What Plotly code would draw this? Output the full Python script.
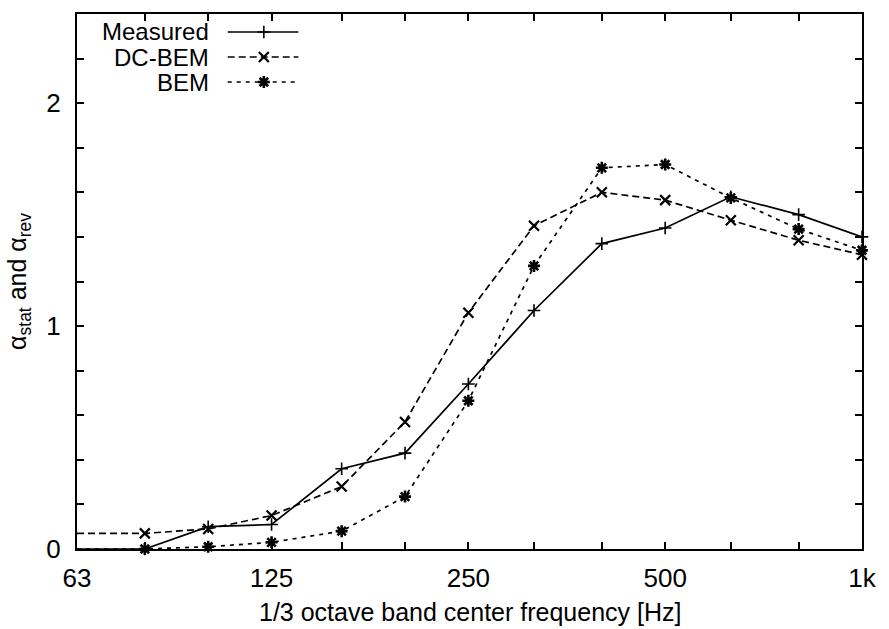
import math
import plotly.graph_objects as go

# 1/3 octave band centre frequencies [Hz]
freqs = [63, 80, 100, 125, 160, 200, 250, 315, 400, 500, 630, 800, 1000]

# Absorption coefficients per band
measured = [0.00, 0.00, 0.10, 0.11, 0.36, 0.43, 0.74, 1.07, 1.37, 1.44, 1.58, 1.50, 1.40]
dc_bem = [0.07, 0.07, 0.09, 0.15, 0.28, 0.57, 1.06, 1.45, 1.60, 1.565, 1.475, 1.385, 1.32]
bem = [0.00, 0.00, 0.01, 0.03, 0.08, 0.235, 0.665, 1.27, 1.71, 1.725, 1.575, 1.435, 1.34]

# Axis labelling
x_label_vals = [63, 125, 250, 500, 1000]
x_label_text = ["63", "125", "250", "500", "1k"]
y_tick_vals = [round(0.2 * i, 1) for i in range(13)]
y_label_vals = [0, 1, 2]

series_names = ["Measured", "DC-BEM", "BEM"]

FONT = "Liberation Sans, Arial, Helvetica, sans-serif"
BLACK = "#000000"

styles = [
    dict(dash="solid", symbol="cross-thin-open", size=9, mlw=1.6),
    dict(dash="7px,4px", symbol="x-thin-open", size=10, mlw=2.2),
    dict(dash="4px,5px", symbol="asterisk-open", size=10, mlw=2.6),
]

fig = go.Figure()

for name, vals, st in zip(series_names, [measured, dc_bem, bem], styles):
    fig.add_trace(go.Scatter(
        x=freqs, y=vals, name=name, mode="lines+markers",
        line=dict(color=BLACK, width=1.7, dash=st["dash"]),
        marker=dict(symbol=st["symbol"], size=st["size"], color=BLACK,
                    line=dict(color=BLACK, width=st["mlw"])),
        showlegend=False, cliponaxis=False,
    ))

# Key in the upper-left corner: right-aligned names, line sample to the right
key_rows = [0.9664, 0.9196, 0.8729]
key_x0, key_x1, key_xm, key_text_x = 0.192, 0.282, 0.238, 0.171
for name, st, ky in zip(series_names, styles, key_rows):
    fig.add_trace(go.Scatter(
        x=[key_x0, key_x1], y=[ky, ky], mode="lines",
        line=dict(color=BLACK, width=1.7, dash=st["dash"]),
        xaxis="x2", yaxis="y2", showlegend=False, hoverinfo="skip",
    ))
    fig.add_trace(go.Scatter(
        x=[key_xm], y=[ky], mode="markers",
        marker=dict(symbol=st["symbol"], size=st["size"], color=BLACK,
                    line=dict(color=BLACK, width=st["mlw"])),
        xaxis="x2", yaxis="y2", showlegend=False, hoverinfo="skip",
    ))
    fig.add_annotation(
        x=key_text_x, y=ky, xref="x2", yref="y2", text=name,
        showarrow=False, xanchor="right", yanchor="middle",
        font=dict(family=FONT, size=24, color=BLACK),
    )

# Axis titles
fig.add_annotation(
    x=-0.0746, y=0.5, xref="paper", yref="paper", textangle=-90,
    text="α<sub>stat</sub> and α<sub>rev</sub>", showarrow=False,
    xanchor="center", yanchor="middle",
    font=dict(family=FONT, size=25, color=BLACK),
)
fig.add_annotation(
    x=0.5, y=-0.1178, xref="paper", yref="paper",
    text="1/3 octave band center frequency [Hz]", showarrow=False,
    xanchor="center", yanchor="middle",
    font=dict(family=FONT, size=25, color=BLACK),
)

y_tick_text = [str(int(v)) if v in y_label_vals else "" for v in y_tick_vals]
x_tick_text = [x_label_text[x_label_vals.index(f)] if f in x_label_vals else "" for f in freqs]

fig.update_layout(
    width=889, height=629,
    margin=dict(l=77, r=21, t=14, b=80),
    paper_bgcolor="white", plot_bgcolor="white",
    font=dict(family=FONT, size=24, color=BLACK),
    xaxis=dict(
        type="log", range=[math.log10(63), math.log10(1000)],
        tickmode="array", tickvals=freqs, ticktext=x_tick_text,
        ticks="inside", ticklen=7, tickwidth=1.5, tickcolor=BLACK,
        showline=True, linecolor=BLACK, linewidth=2, mirror="ticks",
        showgrid=False, zeroline=False, ticklabelstandoff=5,
        tickfont=dict(family=FONT, size=26, color=BLACK),
    ),
    yaxis=dict(
        range=[0, 2.4],
        tickmode="array", tickvals=y_tick_vals, ticktext=y_tick_text,
        ticks="inside", ticklen=7, tickwidth=1.5, tickcolor=BLACK,
        showline=True, linecolor=BLACK, linewidth=2, mirror="ticks",
        showgrid=False, zeroline=False, ticklabelstandoff=9,
        tickfont=dict(family=FONT, size=26, color=BLACK),
    ),
    xaxis2=dict(domain=[0, 1], anchor="y2", range=[0, 1], visible=False,
                overlaying="x"),
    yaxis2=dict(domain=[0, 1], anchor="x2", range=[0, 1], visible=False,
                overlaying="y"),
)

fig.write_html("out.html")
